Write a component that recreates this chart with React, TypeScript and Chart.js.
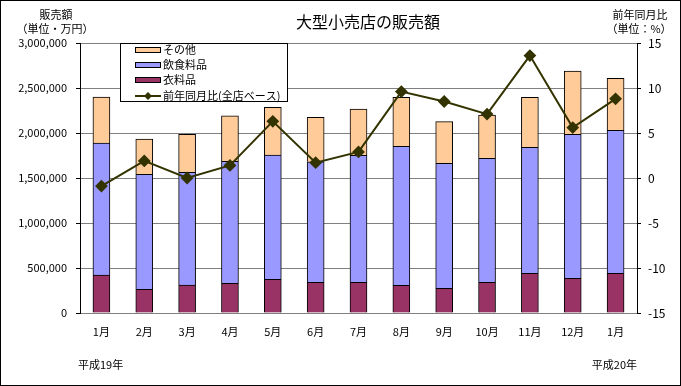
import React, { useEffect, useRef } from "react";
import { Chart, registerables } from "chart.js";

Chart.register(...registerables);

const categories = ["1月", "2月", "3月", "4月", "5月", "6月", "7月", "8月", "9月", "10月", "11月", "12月", "1月"];
const clothing = [422000, 263000, 311000, 330000, 374000, 341000, 341000, 307000, 274000, 341000, 441000, 385000, 441000];
const food = [1467000, 1278000, 1252000, 1356000, 1382000, 1340000, 1411000, 1545000, 1389000, 1378000, 1400000, 1600000, 1589000];
const other = [511000, 392000, 422000, 504000, 530000, 493000, 515000, 544000, 463000, 481000, 555000, 704000, 577000];
const yoy = [-0.9, 1.9, 0.0, 1.4, 6.3, 1.7, 2.9, 9.6, 8.5, 7.1, 13.6, 5.6, 8.8];

const FONT = "'Noto Sans CJK JP', 'DejaVu Sans', sans-serif";
const C_OTHER = "#FFCC99";
const C_FOOD = "#9999FF";
const C_CLOTH = "#993366";
const C_LINE = "#333300";

const decorPlugin = {
  id: "decor",
  afterDraw(chart: any) {
    const ctx = chart.ctx as CanvasRenderingContext2D;
    ctx.save();
    // outer border
    ctx.strokeStyle = "#000";
    ctx.lineWidth = 1;
    ctx.strokeRect(0.5, 0.5, chart.width - 1, chart.height - 1);

    ctx.fillStyle = "#000";
    ctx.textBaseline = "middle";
    ctx.textAlign = "center";
    ctx.font = `16px ${FONT}`;
    ctx.fillText("大型小売店の販売額", 368, 22);

    ctx.font = `11px ${FONT}`;
    ctx.fillText("販売額", 56, 15);
    ctx.fillText("（単位・万円）", 55, 29);
    ctx.fillText("前年同月比", 640, 15);
    ctx.fillText("（単位：%）", 639, 29);

    ctx.textAlign = "left";
    ctx.fillText("平成19年", 78, 365);
    ctx.textAlign = "right";
    ctx.fillText("平成20年", 637, 365);

    // legend
    const lx = 120, ly = 43, lw = 167, lh = 58;
    ctx.fillStyle = "#fff";
    ctx.fillRect(lx + 0.5, ly + 0.5, lw, lh);
    ctx.strokeStyle = "#000";
    ctx.strokeRect(lx + 0.5, ly + 0.5, lw, lh);
    const items = [
      { label: chart.data.datasets[2].label, color: C_OTHER, type: "box" },
      { label: chart.data.datasets[1].label, color: C_FOOD, type: "box" },
      { label: chart.data.datasets[0].label, color: C_CLOTH, type: "box" },
      { label: chart.data.datasets[3].label, color: C_LINE, type: "line" },
    ];
    const rowY = [50, 65, 80, 96];
    ctx.font = `11px ${FONT}`;
    ctx.textAlign = "left";
    items.forEach((it, i) => {
      const y = rowY[i];
      if (it.type === "box") {
        ctx.fillStyle = it.color;
        ctx.fillRect(135.5, y - 2.5, 25, 5);
        ctx.strokeStyle = "#000";
        ctx.strokeRect(135.5, y - 2.5, 25, 5);
      } else {
        ctx.strokeStyle = it.color;
        ctx.lineWidth = 2;
        ctx.beginPath();
        ctx.moveTo(135, y);
        ctx.lineTo(161, y);
        ctx.stroke();
        ctx.fillStyle = it.color;
        ctx.beginPath();
        ctx.moveTo(148, y - 4);
        ctx.lineTo(152, y);
        ctx.lineTo(148, y + 4);
        ctx.lineTo(144, y);
        ctx.closePath();
        ctx.fill();
        ctx.lineWidth = 1;
      }
      ctx.fillStyle = "#000";
      ctx.fillText(it.label, 163, y);
    });
    ctx.restore();
  },
};

export default function App() {
  const ref = useRef<HTMLCanvasElement | null>(null);
  useEffect(() => {
    document.body.style.margin = "0";
    if (!ref.current) return;
    const font = { family: FONT, size: 11 };
    const chart = new Chart(ref.current, {
      type: "bar",
      data: {
        labels: categories,
        datasets: [
          { type: "bar", label: "衣料品", data: clothing, backgroundColor: C_CLOTH, borderColor: "#000", borderWidth: 1, barThickness: 17, stack: "s", yAxisID: "y", order: 1 },
          { type: "bar", label: "飲食料品", data: food, backgroundColor: C_FOOD, borderColor: "#000", borderWidth: 1, barThickness: 17, stack: "s", yAxisID: "y", order: 1 },
          { type: "bar", label: "その他", data: other, backgroundColor: C_OTHER, borderColor: "#000", borderWidth: 1, barThickness: 17, stack: "s", yAxisID: "y", order: 1 },
          {
            type: "line", label: "前年同月比(全店ベース)", data: yoy, yAxisID: "y1", order: 0,
            borderColor: C_LINE, backgroundColor: C_LINE, borderWidth: 2,
            pointStyle: "rectRot", pointRadius: 5, pointBackgroundColor: C_LINE, pointBorderColor: C_LINE,
            tension: 0,
          } as any,
        ],
      },
      options: {
        animation: false,
        responsive: false,
        devicePixelRatio: 1,
        layout: { padding: { top: 43, left: 0, right: 0, bottom: 0 } },
        plugins: { legend: { display: false }, tooltip: { enabled: false }, title: { display: false } },
        scales: {
          x: {
            stacked: true,
            grid: { display: false, drawTicks: false },
            border: { color: "#808080" },
            ticks: { font, color: "#000", padding: 12 },
            afterFit: (s: any) => { s.height = 73; },
          },
          y: {
            stacked: true,
            position: "left",
            min: 0,
            max: 3000000,
            ticks: { stepSize: 500000, font, color: "#000", padding: 9, callback: (v: any) => Number(v).toLocaleString("en-US") },
            grid: { color: "#808080", tickLength: 4, tickColor: "#000" },
            border: { color: "#000" },
            afterFit: (s: any) => { s.width = 80; },
          },
          y1: {
            position: "right",
            min: -15,
            max: 15,
            ticks: { stepSize: 5, font: { family: FONT, size: 12 }, color: "#000", padding: 7 },
            grid: { drawOnChartArea: false, tickLength: 4, tickColor: "#000" },
            border: { color: "#000" },
            afterFit: (s: any) => { s.width = 44; },
          },
        },
      } as any,
      plugins: [decorPlugin],
    });
    return () => chart.destroy();
  }, []);
  return (
    <div style={{ width: 681, height: 386, background: "#fff" }}>
      <canvas ref={ref} width={681} height={386} style={{ display: "block", width: 681, height: 386 }} />
    </div>
  );
}
